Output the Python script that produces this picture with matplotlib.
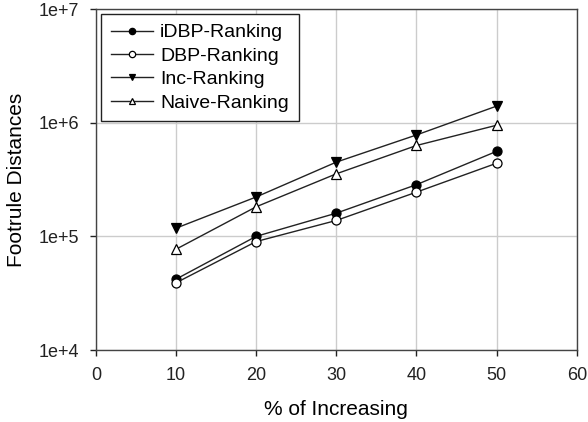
import matplotlib
matplotlib.use("Agg")
import matplotlib.pyplot as plt
from matplotlib.ticker import FixedLocator, NullLocator

plt.rcParams['font.family'] = ['Liberation Sans', 'DejaVu Sans']

x = [10, 20, 30, 40, 50]
idbp = [4.2e4, 1.0e5, 1.6e5, 2.85e5, 5.6e5]
dbp = [3.9e4, 9.0e4, 1.38e5, 2.45e5, 4.4e5]
inc = [1.18e5, 2.22e5, 4.5e5, 7.8e5, 1.4e6]
naive = [7.7e4, 1.82e5, 3.55e5, 6.3e5, 9.5e5]
labels = ['iDBP-Ranking', 'DBP-Ranking', 'Inc-Ranking', 'Naive-Ranking']
xticks = [0, 10, 20, 30, 40, 50, 60]
yticks = [1e4, 1e5, 1e6, 1e7]
yticklabels = ['1e+4', '1e+5', '1e+6', '1e+7']

fig = plt.figure(figsize=(5.88, 4.22), dpi=100)
ax = fig.add_axes([0.163, 0.1706, 0.818, 0.808])

styles = [
    dict(marker='o', mfc='black', mec='black'),
    dict(marker='o', mfc='white', mec='black'),
    dict(marker='v', mfc='black', mec='black'),
    dict(marker='^', mfc='white', mec='black'),
]
for ys, lab, st in zip([idbp, dbp, inc, naive], labels, styles):
    ax.plot(x, ys, color='#222222', lw=1.0, ms=6.5, mew=0.9, label=lab, **st)

ax.set_yscale('log')
ax.set_xlim(0, 60)
ax.set_ylim(1e4, 1e7)
ax.xaxis.set_major_locator(FixedLocator(xticks))
ax.yaxis.set_major_locator(FixedLocator(yticks))
ax.yaxis.set_minor_locator(NullLocator())
ax.set_yticklabels(yticklabels)
ax.grid(True, color='#cccccc', lw=1.0)
ax.set_axisbelow(True)
for sp in ax.spines.values():
    sp.set_color('#444444')
    sp.set_linewidth(1.0)
ax.tick_params(axis='both', labelsize=13, colors='#222222', length=4.5, width=1.0, direction='out')
ax.tick_params(axis='x', pad=7.5)
ax.tick_params(axis='y', pad=7.5)
ax.set_xlabel('% of Increasing', fontsize=15, labelpad=12)
ax.set_ylabel('Footrule Distances', fontsize=15, labelpad=9)

leg = ax.legend(loc='upper left', fontsize=14, frameon=True, fancybox=False,
                edgecolor='#222222', framealpha=1, handlelength=2.2,
                borderpad=0.5, labelspacing=0.3, handletextpad=0.35,
                markerscale=0.7, borderaxespad=0,
                bbox_to_anchor=(5/481, 1 - 5/341))
leg.get_frame().set_linewidth(1.0)

fig.savefig('out.png', dpi=100)
